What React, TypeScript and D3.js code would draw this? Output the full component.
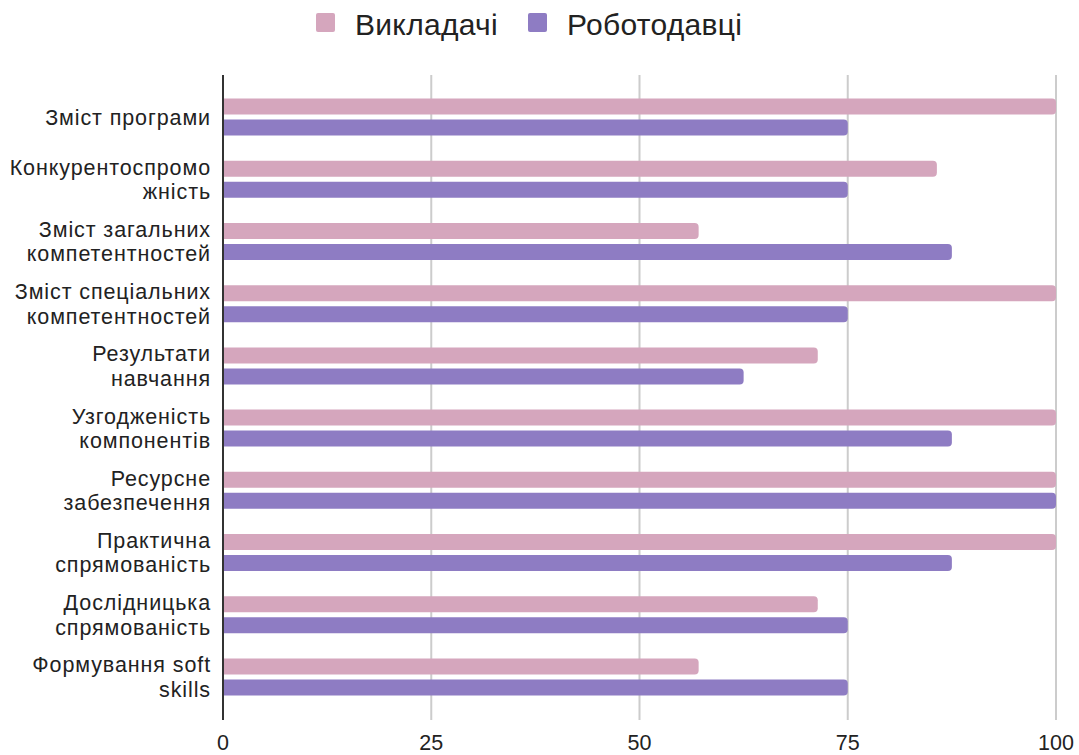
import React from "react";
import * as d3 from "d3";

const categories: string[][] = [
  ["Зміст програми"],
  ["Конкурентоспромо", "жність"],
  ["Зміст загальних", "компетентностей"],
  ["Зміст спеціальних", "компетентностей"],
  ["Результати", "навчання"],
  ["Узгодженість", "компонентів"],
  ["Ресурсне", "забезпечення"],
  ["Практична", "спрямованість"],
  ["Дослідницька", "спрямованість"],
  ["Формування soft", "skills"],
];
const seriesNames = ["Викладачі", "Роботодавці"];
const teachers = [100, 85.7, 57.1, 100, 71.4, 100, 100, 100, 71.4, 57.1];
const employers = [75, 75, 87.5, 75, 62.5, 87.5, 100, 87.5, 75, 75];
const ticks = [0, 25, 50, 75, 100];
const colors = ["#d5a6bd", "#8e7cc3"];

const W = 1079;
const H = 755;
const font = "'Liberation Sans', Arial, sans-serif";

function barPath(x0: number, y: number, w: number, h: number, r: number) {
  const rr = Math.min(r, w / 2, h / 2);
  return `M${x0},${y}H${x0 + w - rr}Q${x0 + w},${y} ${x0 + w},${y + rr}V${y + h - rr}Q${x0 + w},${y + h} ${x0 + w - rr},${y + h}H${x0}Z`;
}

export default function App() {
  const x = d3.scaleLinear().domain([0, 100]).range([223, 1056]);
  const y = d3
    .scaleBand<number>()
    .domain(d3.range(categories.length))
    .range([86, 708]);
  const barH = 16;
  const gap = 5;
  const data = [teachers, employers];

  return (
    <svg width={W} height={H} style={{ display: "block", position: "absolute", left: 0, top: 0 }} fontFamily={font}>
      <rect width={W} height={H} fill="#fff" />
      {/* legend */}
      {seriesNames.map((n, i) => {
        const lx = [316, 528][i];
        return (
          <g key={n}>
            <rect x={lx} y={13} width={19} height={19} rx={2} fill={colors[i]} />
            <text x={lx + 39} y={24} dy="0.36em" fontSize={30} letterSpacing={0.3} fill="#222">
              {n}
            </text>
          </g>
        );
      })}
      {/* grid */}
      {ticks.slice(1).map((t) => (
        <line key={t} x1={x(t)} x2={x(t)} y1={75} y2={720} stroke="#cccccc" strokeWidth={2} />
      ))}
      {/* bars */}
      {categories.map((_, i) => {
        const c = (y(i) as number) + y.bandwidth() / 2;
        return (
          <g key={i}>
            {data.map((s, j) => {
              const top = j === 0 ? c - gap / 2 - barH : c + gap / 2;
              return (
                <path key={j} d={barPath(x(0), top, x(s[i]) - x(0), barH, 4)} fill={colors[j]} />
              );
            })}
          </g>
        );
      })}
      {/* axis line */}
      <line x1={x(0)} x2={x(0)} y1={75} y2={720} stroke="#333" strokeWidth={2} />
      {/* category labels */}
      {categories.map((lines, i) => {
        const c = (y(i) as number) + y.bandwidth() / 2;
        const lh = 24.5;
        const start = c - ((lines.length - 1) * lh) / 2;
        return (
          <text key={i} x={211} textAnchor="end" fontSize={21.5} letterSpacing={0.9} fill="#222">
            {lines.map((l, k) => (
              <tspan key={k} x={211} y={start + k * lh} dy="0.36em">
                {l}
              </tspan>
            ))}
          </text>
        );
      })}
      {/* tick labels */}
      {ticks.map((t) => (
        <text key={t} x={x(t)} y={742} dy="0.36em" textAnchor="middle" fontSize={21.5} fill="#222">
          {t}
        </text>
      ))}
    </svg>
  );
}
